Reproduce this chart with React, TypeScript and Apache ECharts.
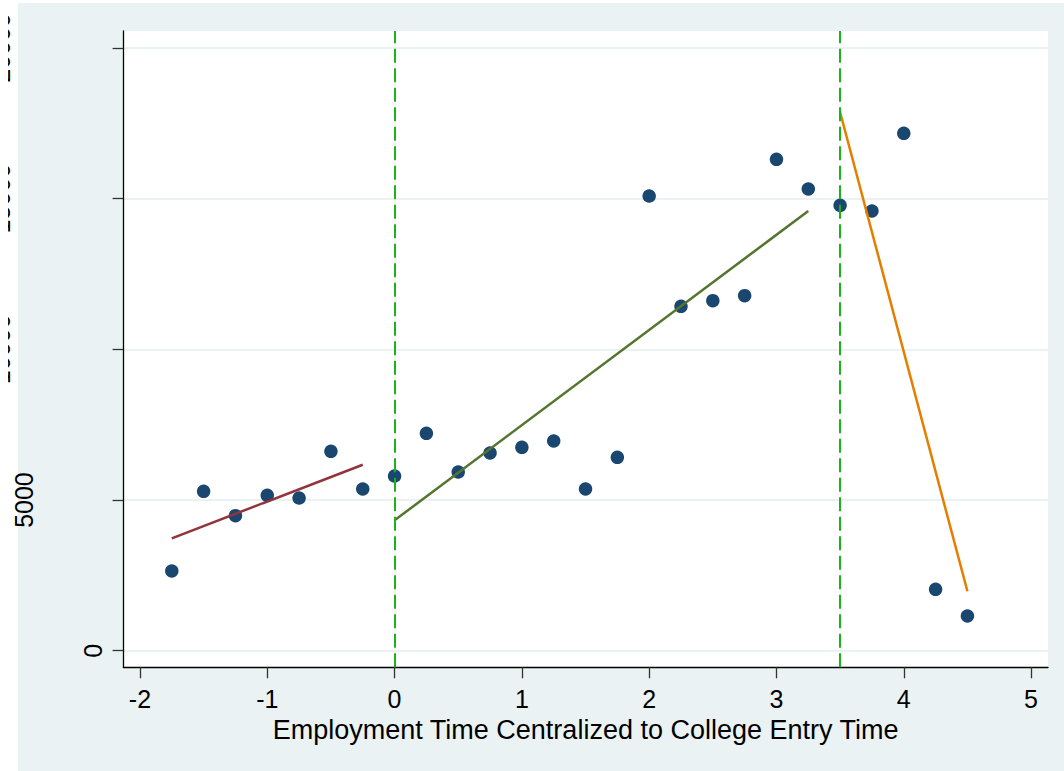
import React, { useEffect, useRef } from "react";
import * as echarts from "echarts";

// Employment time relative to college entry (years)
const timePoints = [
  -1.75, -1.5, -1.25, -1, -0.75, -0.5, -0.25, 0, 0.25, 0.5, 0.75, 1, 1.25, 1.5,
  1.75, 2, 2.25, 2.5, 2.75, 3, 3.25, 3.5, 3.75, 4, 4.25, 4.5,
];
// Binned mean outcome
const earnings = [
  2645, 5290, 4480, 5157, 5067, 6617, 5366, 5797, 7214, 5930, 6561, 6750, 6959,
  5366, 6418, 15089, 11429, 11615, 11781, 16307, 15322, 14781, 14592, 17170,
  2038, 1152,
];
// Linear fits by segment
const preFit = [
  [-1.75, 3730],
  [-0.25, 6172],
];
const collegeFit = [
  [0, 4327],
  [3.25, 14592],
];
const postFit = [
  [3.5, 17867],
  [4.5, 1971],
];
const cutoffs = [0, 3.5];
const xTicks = [-2, -1, 0, 1, 2, 3, 4, 5];
const yTicks = [0, 5000, 10000, 15000, 20000];
const xRange = [-2.131, 5.133];
const yRange = [-551, 20565];
const xTitle = "Employment Time Centralized to College Entry Time";

const FONT = "'Liberation Sans', Arial, Helvetica, sans-serif";

export default function App() {
  const ref = useRef<HTMLDivElement>(null);

  useEffect(() => {
    if (!ref.current) return;
    const chart = echarts.init(ref.current, null, { renderer: "svg" });
    const option: any = {
      animation: false,
      backgroundColor: "#ffffff",
      textStyle: { fontFamily: FONT },
      graphic: [
        {
          type: "rect",
          z: -10,
          silent: true,
          shape: { x: 10, y: 3, width: 1046, height: 768 },
          style: { fill: "#eaf2f3" },
        },
      ],
      grid: {
        left: 115.3,
        top: 31,
        right: 16,
        bottom: 103.7,
        show: true,
        backgroundColor: "#ffffff",
        borderWidth: 0,
        containLabel: false,
        outerBoundsMode: "none",
      },
      xAxis: {
        type: "value",
        min: xRange[0],
        max: xRange[1],
        name: xTitle,
        nameLocation: "middle",
        nameGap: 40.5,
        nameTextStyle: { fontSize: 27, color: "#000", fontFamily: FONT },
        axisLine: { show: true, onZero: false, lineStyle: { color: "#000", width: 1.3 } },
        axisTick: {
          show: true,
          length: 11,
          customValues: xTicks,
          lineStyle: { color: "#333", width: 1.3 },
        },
        axisLabel: {
          customValues: xTicks,
          fontSize: 25,
          margin: 19.4,
          color: "#000",
          fontFamily: FONT,
        },
        splitLine: { show: false },
      },
      yAxis: {
        type: "value",
        min: yRange[0],
        max: yRange[1],
        axisLine: { show: true, onZero: false, lineStyle: { color: "#000", width: 1.3 } },
        axisTick: {
          show: true,
          length: 10.7,
          customValues: yTicks,
          lineStyle: { color: "#333", width: 1.3 },
        },
        axisLabel: {
          customValues: yTicks,
          rotate: 90,
          fontSize: 25,
          lineHeight: 22.9,
          margin: 18.85,
          color: "#000",
          fontFamily: FONT,
          formatter: (v: number) => {
            const s = String(v);
            return s + "\n ".repeat(s.length - 1);
          },
        },
        splitLine: {
          show: true,
          customValues: yTicks,
          lineStyle: { color: "#eaf2f3", width: 2 },
        },
      },
      series: [
        {
          type: "scatter",
          name: "cutoffs",
          data: [],
          z: 1,
          silent: true,
          markLine: {
            silent: true,
            symbol: ["none", "none"],
            label: { show: false },
            lineStyle: { type: [14, 5.5], color: "#19b419", width: 2 },
            emphasis: { disabled: true },
            data: cutoffs.map((c) => ({ xAxis: c })),
          },
        },
        {
          type: "scatter",
          name: "mean",
          z: 2,
          symbol: "circle",
          symbolSize: 13.5,
          itemStyle: { color: "#1a476f", opacity: 1 },
          data: timePoints.map((t, i) => [t, earnings[i]]),
        },
        {
          type: "line",
          name: "pre",
          z: 3,
          showSymbol: false,
          lineStyle: { color: "#90353b", width: 2.5 },
          data: preFit,
        },
        {
          type: "line",
          name: "college",
          z: 3,
          showSymbol: false,
          lineStyle: { color: "#55752f", width: 2.5 },
          data: collegeFit,
        },
        {
          type: "line",
          name: "post",
          z: 3,
          showSymbol: false,
          lineStyle: { color: "#e57e00", width: 2.5 },
          data: postFit,
        },
      ],
    };
    chart.setOption(option);
    return () => chart.dispose();
  }, []);

  return (
    <div
      ref={ref}
      style={{ position: "fixed", left: 8, top: 0, width: 1056, height: 771, overflow: "hidden" }}
    />
  );
}
